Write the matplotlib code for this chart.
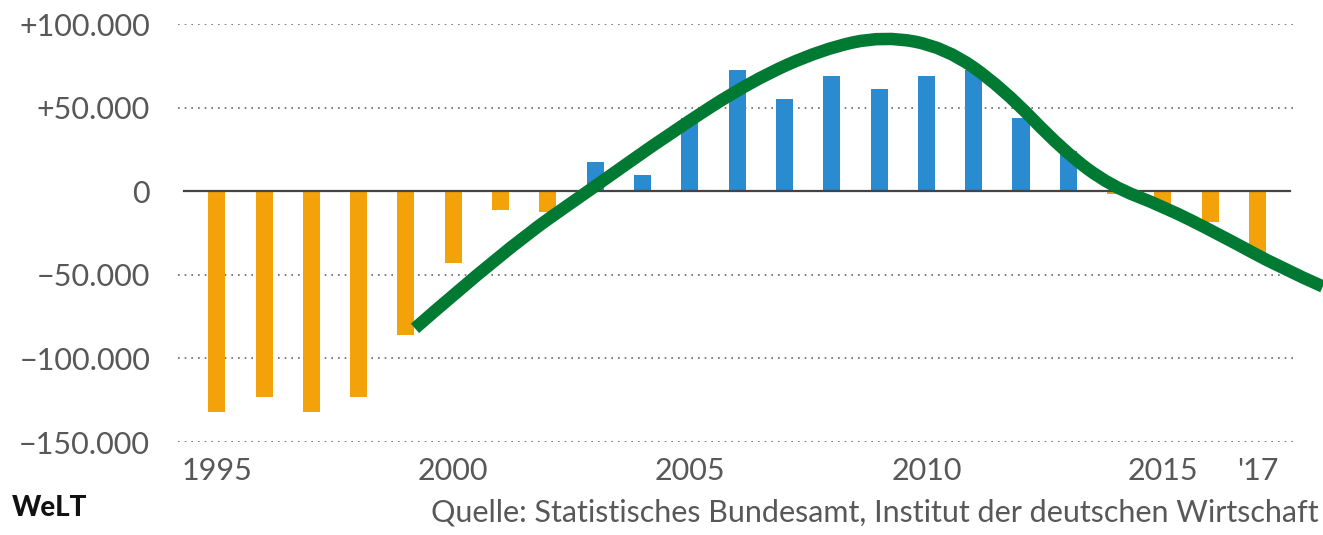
import numpy as np
import matplotlib.pyplot as plt
from matplotlib.path import Path
from matplotlib.patches import PathPatch

# net migration balance per year
years = [1995, 1996, 1997, 1998, 1999, 2000, 2001, 2002, 2003, 2004, 2005, 2006,
         2007, 2008, 2009, 2010, 2011, 2012, 2013, 2014, 2015, 2016, 2017]
saldo = [-132000, -123000, -132000, -123000, -86000, -43000, -11000, -12500,
         17500, 9500, 44000, 72500, 55000, 69000, 61000, 69000, 72500, 44000,
         24000, -1500, -7500, -18500, -37500]

# hand-drawn trend line on top (start, control points, end)
trend_x = [1999.19, 2001.13, 2003.0, 2004.6, 2006.3, 2007.8, 2009.1, 2010.4,
           2011.6, 2012.9, 2013.9, 2015.0, 2016.2, 2017.5, 2018.38]
trend_y = [-82000, -34000, 3000, 35000, 66000, 85000, 93000, 86000,
           62000, 24000, 3000, -9000, -26000, -46000, -57000]

yticks = [100000, 50000, 0, -50000, -100000, -150000]
ytick_labels = ["+100.000", "+50.000", "0", "\u221250.000", "\u2212100.000", "\u2212150.000"]
xticks = [1995, 2000, 2005, 2010, 2015, 2017]
xtick_labels = ["1995", "2000", "2005", "2010", "2015", "'17"]

ORANGE = "#f4a20a"
BLUE = "#2b8bd1"
GREEN = "#007a33"
TEXT = "#585858"

plt.rcParams['font.family'] = ['Lato', 'DejaVu Sans']

fig = plt.figure(figsize=(13.23, 5.35), dpi=100)
ax = fig.add_axes([0.1345, 0.1738, 0.845, 0.7813])

colors = [BLUE if v > 0 else ORANGE for v in saldo]
ax.bar(years, saldo, width=0.36, color=colors, zorder=2)

for y in yticks:
    if y != 0:
        ax.axhline(y, color="#666666", lw=1.2, ls=(0, (1, 3)), zorder=1)
ax.axhline(0, xmin=0.005, xmax=0.995, color="#444444", lw=1.6, zorder=3)

# smooth curve: quadratic beziers through midpoints of the control points
pts = list(zip(trend_x, trend_y))
verts = [pts[0]]
codes = [Path.MOVETO]
for i in range(1, len(pts) - 2):
    mid = ((pts[i][0] + pts[i + 1][0]) / 2, (pts[i][1] + pts[i + 1][1]) / 2)
    verts += [pts[i], mid]
    codes += [Path.CURVE3, Path.CURVE3]
verts += [pts[-2], pts[-1]]
codes += [Path.CURVE3, Path.CURVE3]
curve = PathPatch(Path(verts, codes), facecolor="none", edgecolor=GREEN,
                  lw=9, capstyle="butt", zorder=4, clip_on=False)
ax.add_patch(curve)

ax.set_xlim(1994.18, 2017.81)
ax.set_ylim(-150000, 100000)
ax.set_yticks(yticks)
ax.set_yticklabels(ytick_labels, fontsize=22, color=TEXT)
ax.set_xticks(xticks)
ax.set_xticklabels(xtick_labels, fontsize=22, color=TEXT)
ax.tick_params(length=0)
ax.tick_params(axis="y", pad=20)
ax.tick_params(axis="x", pad=11)
for s in ax.spines.values():
    s.set_visible(False)

fig.text(0.009, 0.035, "WeLT", fontsize=20, fontweight="black", color="#111111")
fig.text(0.997, 0.025, "Quelle: Statistisches Bundesamt, Institut der deutschen Wirtschaft",
         fontsize=22, color=TEXT, ha="right")

fig.savefig("out.png", dpi=100, facecolor="white")
